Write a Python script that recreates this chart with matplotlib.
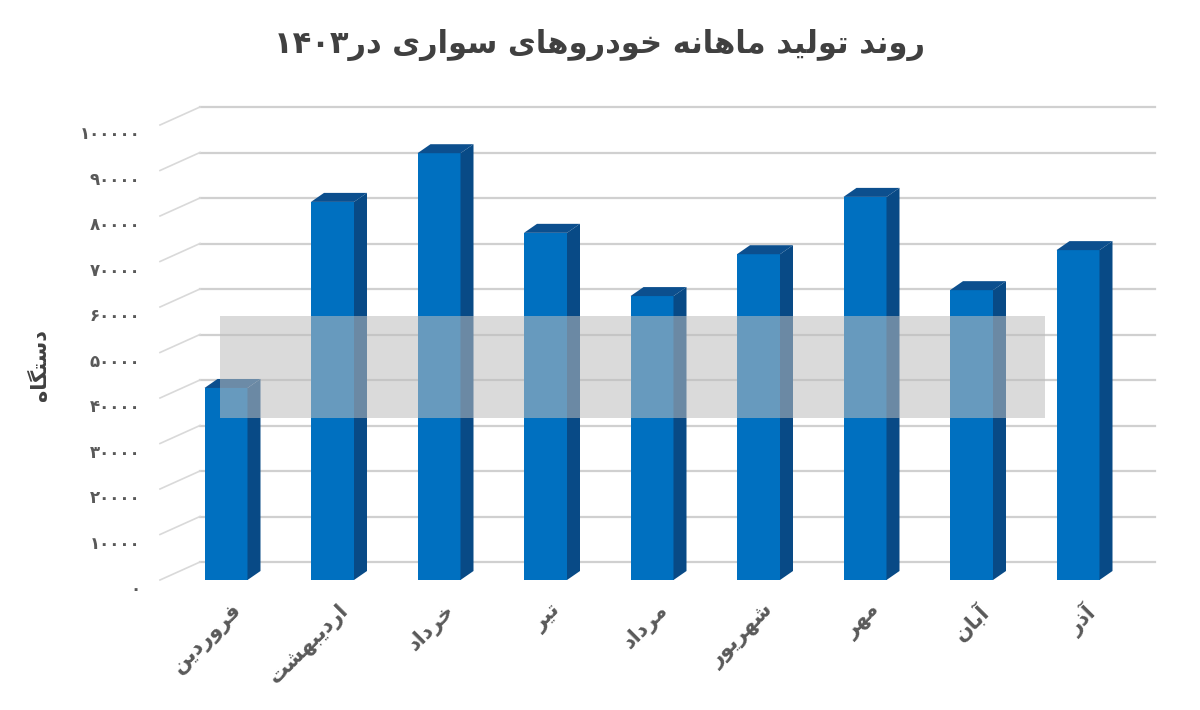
import matplotlib
matplotlib.use("Agg")
import matplotlib.pyplot as plt
from matplotlib.patches import Polygon, Rectangle

months = ["فروردین", "اردیبهشت", "خرداد", "تیر", "مرداد", "شهریور", "مهر", "آبان", "آذر"]
values = [42200, 83100, 93800, 76300, 62400, 71600, 84200, 63700, 72500]
ticks = list(range(0, 100001, 10000))
title = "روند تولید ماهانه خودروهای سواری در۱۴۰۳"
ylabel = "دستگاه"

# minimal Persian shaping: (isolated, final, initial, medial)
FORMS = {
    "ا": ("\uFE8D", "\uFE8E"), "آ": ("\uFE81", "\uFE82"),
    "د": ("\uFEA9", "\uFEAA"), "ذ": ("\uFEAB", "\uFEAC"),
    "ر": ("\uFEAD", "\uFEAE"), "ز": ("\uFEAF", "\uFEB0"),
    "و": ("\uFEED", "\uFEEE"),
    "ب": ("\uFE8F", "\uFE90", "\uFE91", "\uFE92"),
    "ت": ("\uFE95", "\uFE96", "\uFE97", "\uFE98"),
    "خ": ("\uFEA5", "\uFEA6", "\uFEA7", "\uFEA8"),
    "س": ("\uFEB1", "\uFEB2", "\uFEB3", "\uFEB4"),
    "ش": ("\uFEB5", "\uFEB6", "\uFEB7", "\uFEB8"),
    "ف": ("\uFED1", "\uFED2", "\uFED3", "\uFED4"),
    "ل": ("\uFEDD", "\uFEDE", "\uFEDF", "\uFEE0"),
    "م": ("\uFEE1", "\uFEE2", "\uFEE3", "\uFEE4"),
    "ن": ("\uFEE5", "\uFEE6", "\uFEE7", "\uFEE8"),
    "ه": ("\uFEE9", "\uFEEA", "\uFEEB", "\uFEEC"),
    "ی": ("\uFBFC", "\uFBFD", "\uFBFE", "\uFBFF"),
    "پ": ("\uFB56", "\uFB57", "\uFB58", "\uFB59"),
    "گ": ("\uFB92", "\uFB93", "\uFB94", "\uFB95"),
    "ک": ("\uFB8E", "\uFB8F", "\uFB90", "\uFB91"),
}


def joins_left(c):
    return c in FORMS and len(FORMS[c]) == 4


def shape(s):
    out = []
    for i, c in enumerate(s):
        if c not in FORMS:
            out.append(c)
            continue
        f = FORMS[c]
        prev = s[i - 1] if i > 0 else ""
        nxt = s[i + 1] if i + 1 < len(s) else ""
        from_prev = joins_left(prev)
        to_next = len(f) == 4 and nxt in FORMS
        if from_prev and to_next:
            out.append(f[3])
        elif from_prev:
            out.append(f[1])
        elif to_next:
            out.append(f[2])
        else:
            out.append(f[0])
    # reverse, keeping digit runs in order
    tokens = []
    for c in out:
        if c.isdigit() and tokens and tokens[-1][0].isdigit():
            tokens[-1] += c
        else:
            tokens.append(c)
    return "".join(reversed(tokens))


def fa_num(n):
    return str(n).translate(str.maketrans("0123456789", "۰۱۲۳۴۵۶۷۸۹"))


fig = plt.figure(figsize=(12, 7.1), dpi=100)
ax = fig.add_axes([0, 0, 1, 1])
px = 106.5
uy = 1000 / 4.55
ax.set_xlim(-226 / px, (1200 - 226) / px)
ax.set_ylim(-130 * uy, 580 * uy)
ax.axis("off")

dy_wall = 18 * uy
x_wall0, x_wall1, x_side = (200 - 226) / px, (1155 - 226) / px, (160 - 226) / px
for t in ticks:
    ax.plot([x_wall0, x_wall1], [t + dy_wall, t + dy_wall], color="#d0d0d0", lw=1.6, zorder=1)
    ax.plot([x_side, x_wall0], [t, t + dy_wall], color="#d9d9d9", lw=1.2, zorder=1)
    ax.text((140 - 226) / px, t - 2000, fa_num(t), ha="right", va="center",
            fontsize=12, color="#595959", fontweight="bold")

# watermark band
ax.add_patch(Rectangle(((220 - 226) / px, (580 - 418) * uy), 825 / px, 102 * uy,
                       color="#bdbdbd", alpha=0.55, zorder=5, lw=0))

w = 43 / px
ddx, ddy = 13 / px, 9 * uy
for i, v in enumerate(values):
    x0, x1 = i - w / 2, i + w / 2
    ax.add_patch(Rectangle((x0, 0), w, v, color="#0070C0", zorder=3, lw=0))
    ax.add_patch(Polygon([(x0, v), (x1, v), (x1 + ddx, v + ddy), (x0 + ddx, v + ddy)],
                         color="#0C4F8E", zorder=3, lw=0))
    ax.add_patch(Polygon([(x1, 0), (x1, v), (x1 + ddx, v + ddy), (x1 + ddx, ddy)],
                         color="#084A86", zorder=3, lw=0))
    ax.text(i + 0.05, -4400, shape(months[i]), rotation=45, ha="right", va="top",
            rotation_mode="anchor", fontsize=15, color="#595959", fontweight="bold")

ax.text(0.5, 1 - 45 / 710, shape(title), transform=ax.transAxes, ha="center", va="center",
        fontsize=22, color="#404040", fontweight="bold")
ax.text(40 / 1200, 1 - 365 / 710, shape(ylabel), transform=ax.transAxes, rotation=90,
        ha="center", va="center", fontsize=15, color="#404040", fontweight="bold")

fig.savefig("out.png", dpi=100)
